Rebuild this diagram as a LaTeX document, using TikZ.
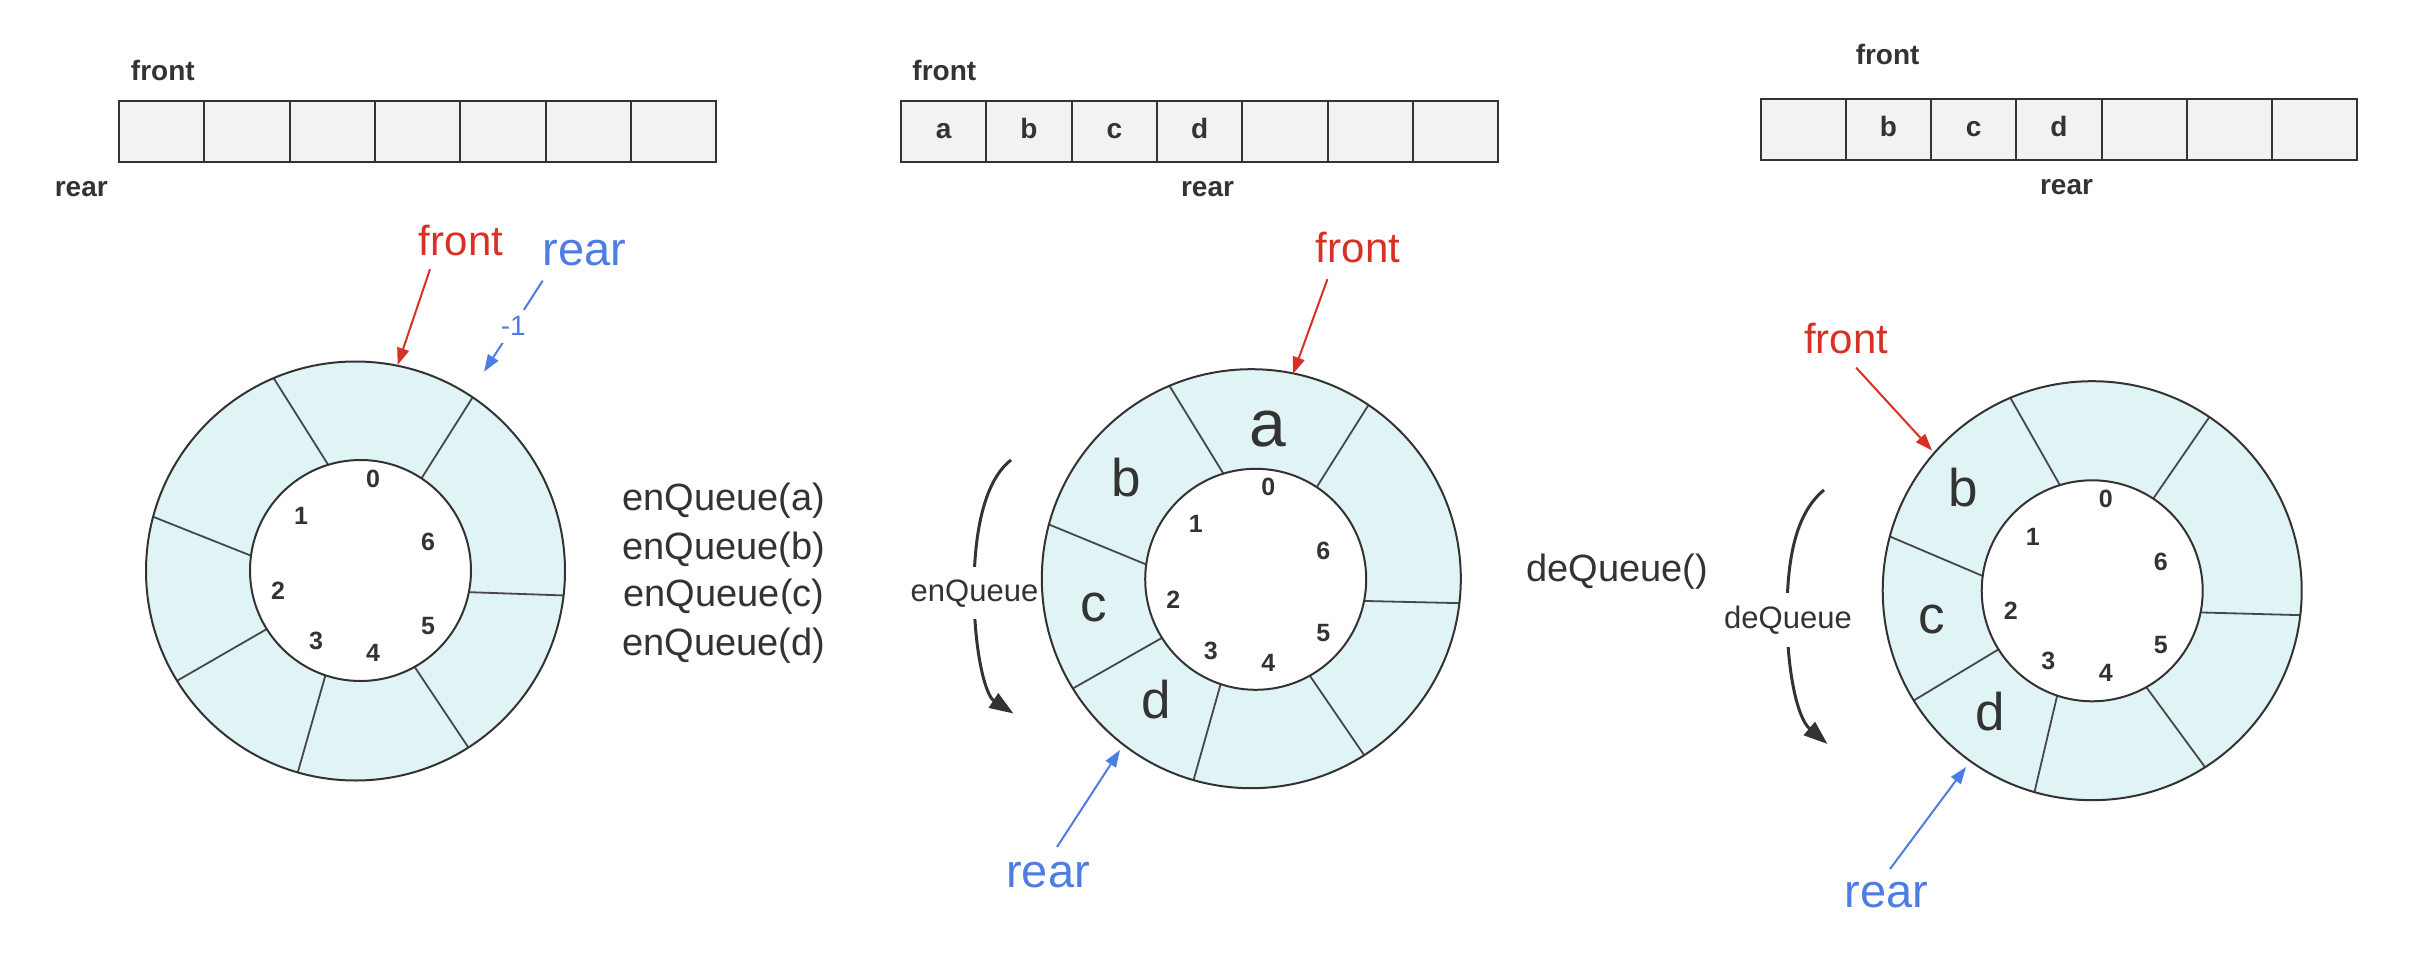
\documentclass[tikz,border=0pt]{standalone}
\usepackage{fontspec}
\setmainfont{Liberation Sans}
\usetikzlibrary{arrows.meta,calc}
\definecolor{ink}{HTML}{333333}
\definecolor{ringfill}{RGB}{224,243,245}
\definecolor{cellfill}{HTML}{F2F2F2}
\definecolor{myred}{HTML}{D93025}
\definecolor{myblue}{RGB}{77,125,227}
\tikzset{
  cell/.style={draw=ink, line width=2pt, fill=cellfill, minimum width=85.3pt,
    minimum height=61pt, inner sep=0pt, font=\fontsize{28}{30}\selectfont\bfseries,
    text=ink, text height=14.5pt, text depth=0pt},
  arrlabel/.style={font=\fontsize{28}{30}\selectfont\bfseries, text=ink, anchor=base, inner sep=0pt},
  digit/.style={font=\fontsize{25}{27}\selectfont\bfseries, text=ink, inner sep=0pt},
  bigletter/.style={font=\fontsize{53}{56}\selectfont, text=ink, anchor=base, inner sep=0pt},
  frontlbl/.style={font=\fontsize{42}{44}\selectfont, text=myred, anchor=base, inner sep=0pt},
  rearlbl/.style={font=\fontsize{47}{49}\selectfont, text=myblue, anchor=base, inner sep=0pt},
  oplbl/.style={font=\fontsize{38}{40}\selectfont, text=ink, anchor=base, inner sep=0pt},
  curvelbl/.style={font=\fontsize{31}{33}\selectfont, text=ink, anchor=base, fill=white,
    inner xsep=1pt, inner ysep=12pt},
  minuslbl/.style={font=\fontsize{28}{30}\selectfont, text=myblue, fill=white, inner sep=7pt},
  redarrow/.style={draw=myred, line width=2pt, -{Triangle[length=17pt,width=12pt]}},
  bluearrow/.style={draw=myblue, line width=2pt, -{Triangle[length=17pt,width=12pt]}},
  bigarrow/.style={draw=ink, line width=3pt, -{Triangle[length=24pt,width=17pt]}},
  ringline/.style={draw=ink, line width=2pt},
  segline/.style={draw=ink!90, line width=1.8pt},
}
\newcommand\myring[2]{%
  \fill[ringfill] #1 circle[radius=209.5];
  \foreach \ao/\ai in {-113/-107,-56/-56.5,-165/-172.3,6.7/11.3,148.4/148,106/108.5,57.4/60.7}
    \draw[segline] ($#1+(\ao:209.5)$) -- ($#2+(\ai:110.5)$);
  \fill[white] #2 circle[radius=110.5];
  \draw[ringline] #2 circle[radius=110.5];
  \draw[ringline] #1 circle[radius=209.5];
}
\begin{document}
\begin{tikzpicture}[x=1pt,y=-1pt]
\useasboundingbox (0,0) rectangle (2416,960);
\fill[white] (0,0) rectangle (2416,960);

% ---------- arrays ----------
\foreach \i in {0,...,6}
  \node[cell] (pa\i) at ({161.65+85.3*\i},131.2) {};
\node[arrlabel] (pafront) at (162.8,81) {front};
\node[arrlabel] (parear) at (81.3,196.7) {rear};

\foreach \i/\t in {0/a,1/b,2/c,3/d,4/,5/,6/}
  \node[cell] (pb\i) at ({943.65+85.36*\i},131.2) {\t};
\node[arrlabel] (pbfront) at (944.3,81) {front};
\node[arrlabel] (pbrear) at (1207.5,196.7) {rear};

\foreach \i/\t in {0/,1/b,2/c,3/d,4/,5/,6/}
  \node[cell] (pc\i) at ({1803.2+85.24*\i},129.2) {\t};
\node[arrlabel] (pcfront) at (1887.6,65) {front};
\node[arrlabel] (pcrear) at (2066.5,194) {rear};

% ---------- circle 1 ----------
\myring{(355.5,571)}{(360.5,570.5)}
\node[digit] (c1d0) at (373,479) {0};
\node[digit] (c1d1) at (301,516) {1};
\node[digit] (c1d6) at (428,542) {6};
\node[digit] (c1d2) at (278,591) {2};
\node[digit] (c1d5) at (428,626) {5};
\node[digit] (c1d3) at (316,641) {3};
\node[digit] (c1d4) at (373,653) {4};
\node[frontlbl] (c1front) at (461,255) {front};
\coordinate (c1fs) at (430,269.3);
\coordinate (c1ft) at (397.7,365);
\draw[redarrow] (c1fs) -- (c1ft);
\node[rearlbl] (c1rear) at (584.3,265) {rear};
\coordinate (c1rs) at (542.7,280.7);
\coordinate (c1rt) at (484,371.7);
\draw[bluearrow] (c1rs) -- node[minuslbl] (c1m) {-1} (c1rt);

\node[oplbl] (q1) at (724,510.8) {enQueue(a)};
\node[oplbl] (q2) at (724,559.6) {enQueue(b)};
\node[oplbl] (q3) at (724,606.9) {enQueue(c)};
\node[oplbl] (q4) at (724,655.8) {enQueue(d)};

% ---------- circle 2 ----------
\coordinate (e2s) at (1011,460);
\coordinate (e2m) at (974,590);
\coordinate (e2t) at (1013.5,713.5);
\draw[bigarrow] (e2s) .. controls (985,480) and (974,530) .. (e2m)
  .. controls (974,650) and (985,695) .. (e2t);
\node[curvelbl] (e2lbl) at (974.5,601) {enQueue};
\myring{(1251.3,578.7)}{(1255.7,579.3)}
\node[digit] (c2d0) at (1268.3,487.3) {0};
\node[digit] (c2d1) at (1195.7,524.3) {1};
\node[digit] (c2d6) at (1323.3,550.7) {6};
\node[digit] (c2d2) at (1173.3,599.3) {2};
\node[digit] (c2d5) at (1323.3,633.3) {5};
\node[digit] (c2d3) at (1210.7,650.7) {3};
\node[digit] (c2d4) at (1268.3,662.7) {4};
\node[bigletter, font=\fontsize{66}{68}\selectfont] (c2a) at (1268.3,446) {a};
\node[bigletter] (c2b) at (1126.7,496) {b};
\node[bigletter] (c2c) at (1094,621.7) {c};
\node[bigletter] (c2dd) at (1156.7,718.3) {d};
\node[frontlbl] (c2front) at (1358,262.5) {front};
\coordinate (c2fs) at (1327.4,279.3);
\coordinate (c2ft) at (1293,374);
\draw[redarrow] (c2fs) -- (c2ft);
\node[rearlbl] (c2rear) at (1048,887.5) {rear};
\coordinate (c2rs) at (1057,847);
\coordinate (c2rt) at (1120,750);
\draw[bluearrow] (c2rs) -- (c2rt);

\node[oplbl] (dq) at (1617.3,581) {deQueue()};

% ---------- circle 3 ----------
\coordinate (e3s) at (1824,490);
\coordinate (e3m) at (1787,615);
\coordinate (e3t) at (1827.5,744);
\draw[bigarrow] (e3s) .. controls (1797,512) and (1787,555) .. (e3m)
  .. controls (1787,670) and (1797,718) .. (e3t);
\node[curvelbl, inner ysep=13pt] (e3lbl) at (1788,628) {deQueue};
\myring{(2092.2,590.7)}{(2092.2,590.8)}
\node[digit] (c3d0) at (2105.7,499.3) {0};
\node[digit] (c3d1) at (2032.7,536.7) {1};
\node[digit] (c3d6) at (2160.7,562.3) {6};
\node[digit] (c3d2) at (2010.7,611) {2};
\node[digit] (c3d5) at (2160.7,645) {5};
\node[digit] (c3d3) at (2048.3,661) {3};
\node[digit] (c3d4) at (2105.7,673.3) {4};
\node[bigletter] (c3b) at (1963.3,506.7) {b};
\node[bigletter] (c3c) at (1931.7,633.3) {c};
\node[bigletter] (c3dd) at (1990.7,730) {d};
\node[frontlbl] (c3front) at (1846,353) {front};
\coordinate (c3fs) at (1856,367.5);
\coordinate (c3ft) at (1932,450.5);
\draw[redarrow] (c3fs) -- (c3ft);
\node[rearlbl] (c3rear) at (1886.6,907.8) {rear};
\coordinate (c3rs) at (1890,869);
\coordinate (c3rt) at (1966,767);
\draw[bluearrow] (c3rs) -- (c3rt);
\end{tikzpicture}
\end{document}
